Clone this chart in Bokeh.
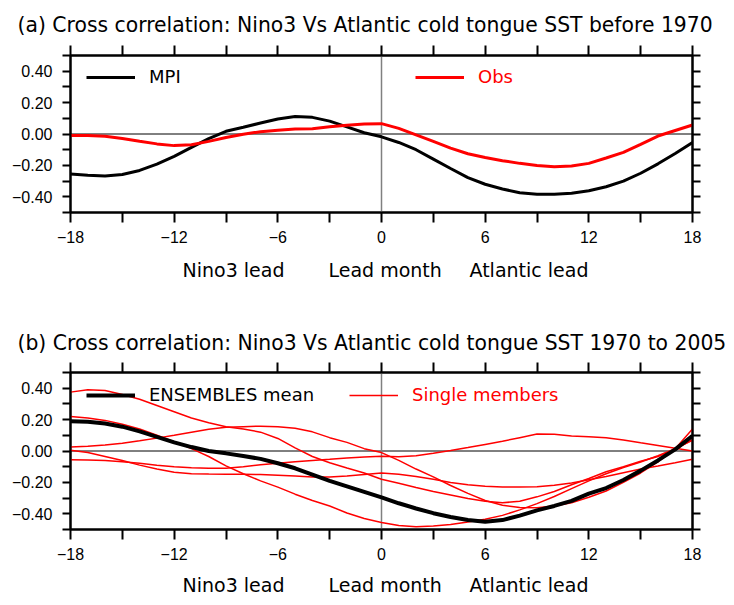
from bokeh.plotting import figure
from bokeh.models import FixedTicker, LinearAxis, Span, Range1d, Legend, LegendItem, Title
from bokeh.core.properties import value
from bokeh.layouts import column
from bokeh.embed import file_html
from bokeh.resources import INLINE

# ---------------- data ----------------
months = [-18, -17, -16, -15, -14, -13, -12, -11, -10, -9, -8, -7, -6, -5, -4, -3, -2, -1,
          0, 1, 2, 3, 4, 5, 6, 7, 8, 9, 10, 11, 12, 13, 14, 15, 16, 17, 18]

# panel (a): before 1970
mpi = [-0.255, -0.262, -0.268, -0.258, -0.232, -0.192, -0.142, -0.085, -0.030,
       0.017, 0.043, 0.070, 0.096, 0.112, 0.106, 0.082, 0.045, 0.008,
       -0.018, -0.054, -0.100, -0.160, -0.220, -0.278, -0.320, -0.350, -0.374,
       -0.384, -0.383, -0.377, -0.362, -0.336, -0.300, -0.250, -0.190, -0.124, -0.054]
obs = [-0.010, -0.010, -0.014, -0.028, -0.046, -0.063, -0.074, -0.068, -0.047,
       -0.022, -0.002, 0.015, 0.024, 0.032, 0.034, 0.046, 0.055, 0.064,
       0.066, 0.036, -0.006, -0.047, -0.090, -0.126, -0.150, -0.170, -0.187,
       -0.200, -0.209, -0.204, -0.187, -0.153, -0.117, -0.066, -0.013, 0.022, 0.057]

# panel (b): 1970 to 2005
ens_mean = [0.190, 0.187, 0.175, 0.155, 0.125, 0.090, 0.055, 0.025, 0.000,
            -0.015, -0.032, -0.050, -0.078, -0.110, -0.150, -0.190, -0.225, -0.260,
            -0.295, -0.333, -0.366, -0.396, -0.420, -0.440, -0.450, -0.440, -0.412,
            -0.378, -0.350, -0.318, -0.272, -0.236, -0.185, -0.125, -0.060, 0.010, 0.097]
member_a = [0.375, 0.390, 0.385, 0.360, 0.330, 0.290, 0.250, 0.210, 0.180,
            0.155, 0.140, 0.120, 0.080, 0.020, -0.035, -0.075, -0.108, -0.140,
            -0.180, -0.205, -0.232, -0.258, -0.280, -0.302, -0.320, -0.330, -0.320,
            -0.292, -0.258, -0.215, -0.175, -0.132, -0.100, -0.065, -0.035, 0.010, 0.072]
member_b = [0.025, 0.030, 0.038, 0.050, 0.065, 0.082, 0.100, 0.120, 0.138,
            0.152, 0.155, 0.158, 0.155, 0.145, 0.122, 0.085, 0.055, 0.015,
            -0.010, -0.060, -0.115, -0.165, -0.220, -0.270, -0.315, -0.345, -0.360,
            -0.362, -0.350, -0.330, -0.295, -0.255, -0.200, -0.140, -0.070, 0.015, 0.140]
member_c = [-0.055, -0.057, -0.060, -0.068, -0.078, -0.090, -0.100, -0.107, -0.110,
            -0.110, -0.100, -0.088, -0.078, -0.068, -0.060, -0.053, -0.045, -0.038,
            -0.033, -0.036, -0.030, -0.015, 0.003, 0.022, 0.042, 0.062, 0.085,
            0.108, 0.106, 0.095, 0.090, 0.084, 0.070, 0.052, 0.035, 0.018, 0.000]
member_d = [0.005, -0.010, -0.035, -0.060, -0.090, -0.115, -0.135, -0.145, -0.147,
            -0.148, -0.148, -0.150, -0.155, -0.160, -0.165, -0.165, -0.160, -0.150,
            -0.140, -0.148, -0.162, -0.180, -0.200, -0.215, -0.225, -0.230, -0.230,
            -0.228, -0.218, -0.204, -0.183, -0.162, -0.138, -0.114, -0.095, -0.075, -0.052]
member_e = [0.220, 0.210, 0.195, 0.170, 0.140, 0.100, 0.060, 0.015, -0.035,
            -0.095, -0.145, -0.190, -0.230, -0.275, -0.315, -0.350, -0.395, -0.430,
            -0.455, -0.475, -0.482, -0.478, -0.468, -0.452, -0.435, -0.410, -0.375,
            -0.335, -0.290, -0.240, -0.190, -0.145, -0.105, -0.070, -0.030, 0.015, 0.068]
members = [member_a, member_b, member_c, member_d, member_e]

x_major = [-18, -12, -6, 0, 6, 12, 18]
x_minor = [-15, -9, -3, 3, 9, 15]
x_labels = ["\u221218", "\u221212", "\u22126", "0", "6", "12", "18"]
y_major = [-0.4, -0.2, 0.0, 0.2, 0.4]
y_minor = [-0.5, -0.3, -0.1, 0.1, 0.3, 0.5]
y_labels = ["\u22120.40", "\u22120.20", "0.00", "0.20", "0.40"]

title_a = "(a) Cross correlation: Nino3 Vs Atlantic cold tongue SST before 1970"
title_b = "(b) Cross correlation: Nino3 Vs Atlantic cold tongue SST 1970 to 2005"
xlab_parts = ["Nino3 lead", "Lead month", "Atlantic lead"]

TEXT_FONT = "DejaVu Sans"
TICK_FONT = "Liberation Sans"
PAGE_W = 730
FRAME_L, FRAME_W, FRAME_H = 70, 622, 157
FRAME_R = PAGE_W - FRAME_L - FRAME_W
PANEL_BOTTOM = 38


def style_axis(ax, labels, show):
    ax.axis_line_width = 2
    ax.axis_line_color = "black"
    ax.major_tick_line_width = 2
    ax.minor_tick_line_width = 2
    ax.major_tick_in = 0
    ax.minor_tick_in = 0
    ax.major_label_text_font = TICK_FONT
    ax.major_label_text_font_size = "16px" if show else "0px"
    ax.major_label_text_color = "black"
    ax.major_label_overrides = labels


def make_panel(top, title, title_standoff):
    p = figure(width=PAGE_W, height=top + FRAME_H + PANEL_BOTTOM,
               output_backend="svg", toolbar_location=None, title=None,
               x_range=Range1d(-18, 18), y_range=Range1d(-0.5, 0.5),
               min_border_left=FRAME_L, min_border_right=FRAME_R,
               min_border_top=top, min_border_bottom=PANEL_BOTTOM,
               x_axis_location=None, y_axis_location=None)
    for g in p.grid:
        g.visible = False
    p.outline_line_color = "black"
    p.outline_line_width = 2

    xt = FixedTicker(ticks=x_major, minor_ticks=x_minor)
    yt = FixedTicker(ticks=y_major, minor_ticks=y_minor)
    xl = {k: v for k, v in zip(x_major, x_labels)}
    yl = {k: v for k, v in zip(y_major, y_labels)}
    xe = {k: "" for k in x_major}
    ye = {k: "" for k in y_major}

    for loc, lab, show in (("below", xl, True), ("above", xe, False)):
        ax = LinearAxis(ticker=xt)
        style_axis(ax, lab, show)
        ax.major_tick_out = 10
        ax.minor_tick_out = 10
        ax.major_label_standoff = 8 if show else 0
        p.add_layout(ax, loc)
    for loc, lab, show in (("left", yl, True), ("right", ye, False)):
        ax = LinearAxis(ticker=yt)
        style_axis(ax, lab, show)
        ax.major_tick_out = 8
        ax.minor_tick_out = 8
        ax.major_label_standoff = 10 if show else 0
        p.add_layout(ax, loc)

    p.add_layout(Title(text=title, align="left", offset=17 - FRAME_L,
                       standoff=title_standoff,
                       text_font=TEXT_FONT, text_font_size="20.35px",
                       text_font_style="normal", text_color="black"), "above")

    p.add_layout(Span(location=0, dimension="width", line_color="black",
                      line_width=1, level="underlay"))
    p.add_layout(Span(location=0, dimension="height", line_color="#808080",
                      line_width=1.5, level="underlay"))
    return p


def text_strip(height, texts, xs, baseline_y, size):
    """Strip with the same frame columns as the panels; x and y in page pixels."""
    s = figure(width=PAGE_W, height=height, output_backend="svg", toolbar_location=None,
               title=None, x_range=Range1d(FRAME_L, FRAME_L + FRAME_W),
               y_range=Range1d(height, 0),
               min_border_left=FRAME_L, min_border_right=FRAME_R,
               min_border_top=0, min_border_bottom=0,
               x_axis_location=None, y_axis_location=None)
    for g in s.grid:
        g.visible = False
    s.outline_line_color = None
    s.text(x=xs, y=[baseline_y] * len(texts), text=texts,
           text_font=value(TEXT_FONT), text_font_size=value(size),
           text_color="black", text_align=value("left"),
           text_baseline=value("alphabetic"))
    return s


def add_legend(p, renderer, label, color, x, y):
    lg = Legend(items=[LegendItem(label=label, renderers=[renderer])],
                location=(x, y), padding=0, margin=0, spacing=0,
                border_line_color=None, background_fill_alpha=0,
                glyph_width=49, glyph_height=20, label_height=20,
                label_standoff=14, label_text_font=TEXT_FONT,
                label_text_font_size="18px", label_text_color=color,
                label_text_baseline="middle")
    p.add_layout(lg)


# ---------------- panel (a) ----------------
pa = make_panel(55, title_a, 17)
r_mpi = pa.line(months, mpi, line_color="black", line_width=3)
r_obs = pa.line(months, obs, line_color="red", line_width=3)
add_legend(pa, r_mpi, "MPI", "black", 16, 125)
add_legend(pa, r_obs, "Obs", "red", 345, 125)
xa = text_strip(50, xlab_parts, [182, 328, 469], 19, "19px")

# ---------------- panel (b) ----------------
pb = make_panel(72, title_b, 16)
r_mem = None
for m in members:
    r_mem = pb.line(months, m, line_color="red", line_width=1.5)
r_ens = pb.line(months, ens_mean, line_color="black", line_width=4)
add_legend(pb, r_ens, "ENSEMBLES mean", "black", 16, 124)
add_legend(pb, r_mem, "Single members", "red", 279, 124)
xb = text_strip(36, xlab_parts, [182, 328, 469], 17, "19px")

layout = column(pa, xa, pb, xb, spacing=0)
open("out.html", "w").write(file_html(layout, INLINE))
